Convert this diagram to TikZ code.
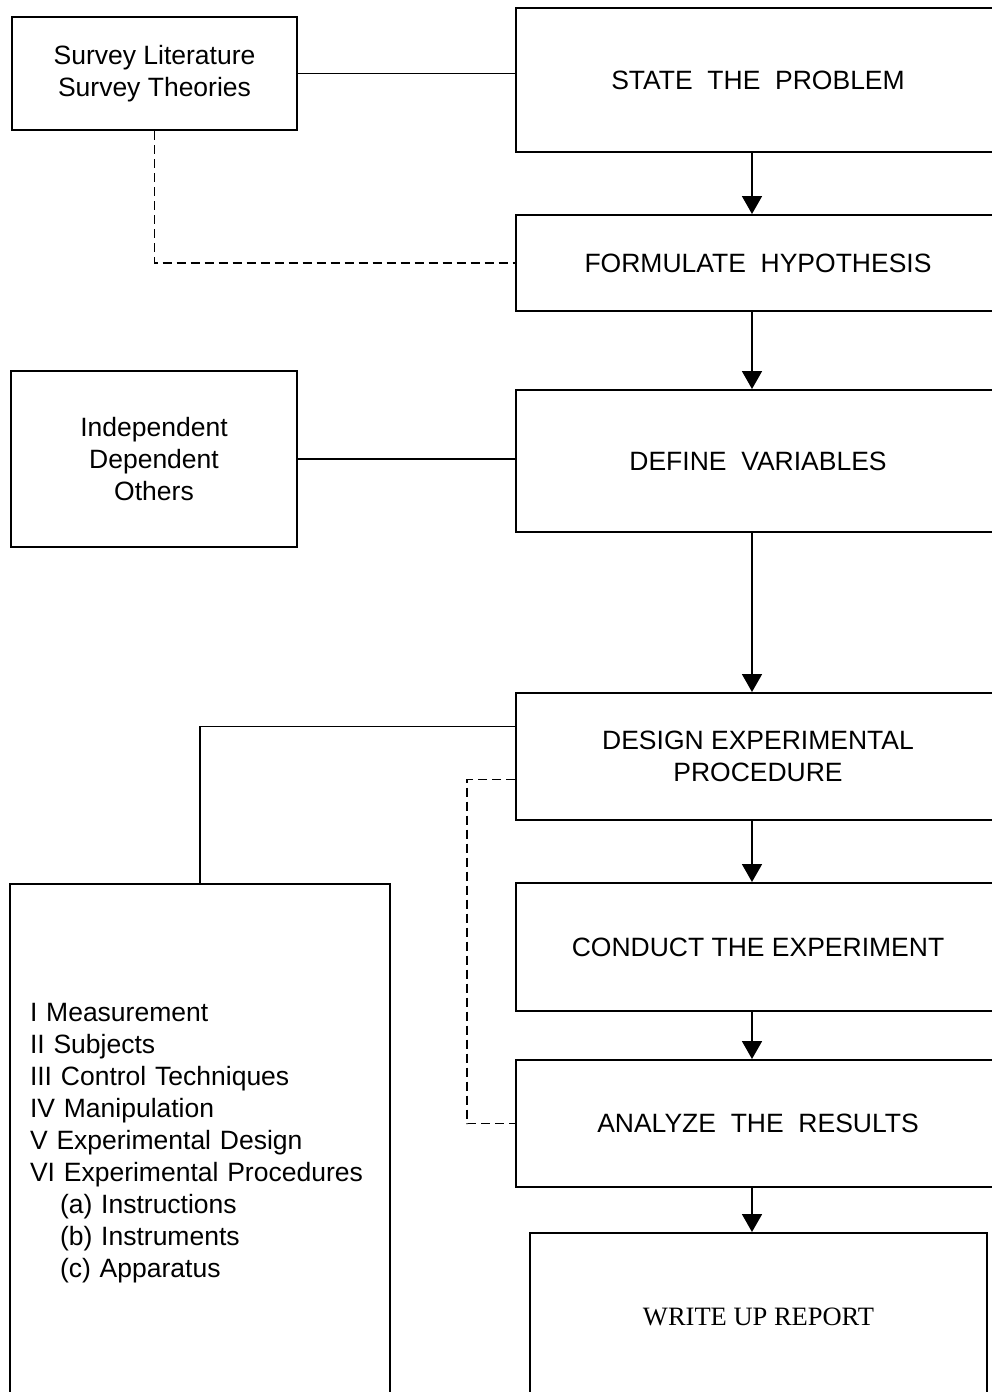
\documentclass[tikz,border=0pt]{standalone}
\usepackage{fontspec}
\setmainfont{Liberation Sans}
\newfontfamily\serifface{Liberation Serif}
\usetikzlibrary{arrows.meta}
\begin{document}
\begin{tikzpicture}[x=1pt,y=-1pt,
  box/.style={draw,line width=2pt,inner sep=0pt,align=center,font=\fontsize{26.5}{32}\selectfont},
  arr/.style={line width=1.8pt,-{Triangle[length=18pt,width=20pt]}},
  conn/.style={line width=1.8pt},
  dconn/.style={line width=1.8pt,dash pattern=on 9pt off 5pt}]
\clip (0,0) rectangle (992,1392);
\fill[white] (0,0) rectangle (992,1392);
% left boxes
\node[box,minimum width=285pt,minimum height=113pt] (survey) at (154.5,73.5) {Survey Literature\\Survey Theories};
\node[box,minimum width=286pt,minimum height=176pt] (indep) at (154,459) {Independent\\Dependent\\Others};
\node[box,minimum width=380pt,minimum height=518pt,text width=340pt,inner xsep=20pt,align=left] (proc) at (200,1143)
  {I Measurement\\II Subjects\\III Control Techniques\\IV Manipulation\\V Experimental Design\\VI Experimental Procedures\\
  \hspace*{30pt}(a) Instructions\\\hspace*{30pt}(b) Instruments\\\hspace*{30pt}(c) Apparatus};
% right boxes
\node[box,minimum width=484pt,minimum height=144pt] (state) at (758,80) {\raisebox{-3pt}{STATE~~THE~~PROBLEM}};
\node[box,minimum width=484pt,minimum height=96pt] (form) at (758,263) {\raisebox{-3pt}{FORMULATE~~HYPOTHESIS}};
\node[box,minimum width=484pt,minimum height=142pt] (define) at (758,461) {\raisebox{-3pt}{DEFINE~~VARIABLES}};
\node[box,minimum width=484pt,minimum height=127pt] (design) at (758,756.5) {DESIGN EXPERIMENTAL\\PROCEDURE};
\node[box,minimum width=484pt,minimum height=128pt] (conduct) at (758,947) {CONDUCT THE EXPERIMENT};
\node[box,minimum width=484pt,minimum height=127pt] (analyze) at (758,1123.5) {ANALYZE~~THE~~RESULTS};
\node[box,minimum width=457pt,minimum height=167pt,font=\serifface\fontsize{26.5}{32}\selectfont] (write) at (758.5,1316.5) {WRITE UP REPORT};
% arrows
\draw[arr] ([xshift=-6pt]state.south) -- ([xshift=-6pt]form.north);
\draw[arr] ([xshift=-6pt]form.south) -- ([xshift=-6pt]define.north);
\draw[arr] ([xshift=-6pt]define.south) -- ([xshift=-6pt]design.north);
\draw[arr] ([xshift=-6pt]design.south) -- ([xshift=-6pt]conduct.north);
\draw[arr] ([xshift=-6pt]conduct.south) -- ([xshift=-6pt]analyze.north);
\draw[arr] ([xshift=-6pt]analyze.south) -- ([xshift=-6.5pt]write.north);
% side connectors
\draw[conn] (survey.east) -- (survey.east -| state.west);
\draw[dconn] (survey.south) |- (form.west);
\draw[conn] (indep.east) -- (indep.east -| define.west);
\draw[conn] ([yshift=30pt]design.west) -| (proc.north);
\draw[dconn] ([yshift=-23pt]design.west) -- ++(-48,0) |- (analyze.west);
\end{tikzpicture}
\end{document}
